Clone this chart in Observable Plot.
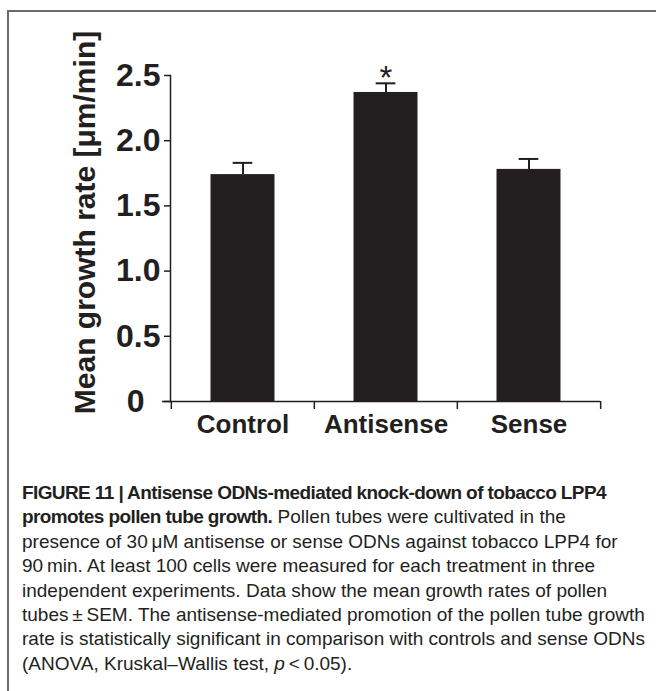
<!DOCTYPE html>
<html><head><meta charset="utf-8">
<script src="https://cdn.jsdelivr.net/npm/d3@7"></script>
<script src="https://cdn.jsdelivr.net/npm/@observablehq/plot@0.6"></script>
<style>
html,body{margin:0;padding:0;background:#fff;}
#page{position:relative;width:656px;height:691px;overflow:hidden;}
#border{position:absolute;left:7px;top:10px;right:-10px;bottom:-10px;border-top:2px solid #6b6b6b;border-left:2px solid #6b6b6b;}
#chart{position:absolute;left:0;top:0;}
#caption{position:absolute;left:22px;top:481px;width:634px;font-family:"Liberation Sans Narrow","Arial Narrow","Liberation Sans",Arial,sans-serif;font-size:19px;line-height:24.4px;color:#231f20;}
#caption div{white-space:nowrap;}
#caption b{letter-spacing:-0.6px;}
</style></head>
<body><div id="page"><div id="border"></div><div id="chart"></div><div id="caption"></div></div>
<script>
// ---- data ----
const categories = ["Control", "Antisense", "Sense"];
const means = [1.74, 2.37, 1.78];
const sems = [0.09, 0.07, 0.08];
const significance = ["", "*", ""];
const yTicks = [0, 0.5, 1.0, 1.5, 2.0, 2.5];
const yLabel = "Mean growth rate [μm/min]";
const captionLines = [
  "<b>FIGURE 11 | Antisense ODNs-mediated knock-down of tobacco LPP4</b>",
  "<b>promotes pollen tube growth.</b> Pollen tubes were cultivated in the",
  "presence of 30\u2009μM antisense or sense ODNs against tobacco LPP4 for",
  "90\u2009min. At least 100 cells were measured for each treatment in three",
  "independent experiments. Data show the mean growth rates of pollen",
  "tubes\u2009±\u2009SEM. The antisense-mediated promotion of the pollen tube growth",
  "rate is statistically significant in comparison with controls and sense ODNs",
  "(ANOVA, Kruskal–Wallis test, <i>p</i>\u2009&lt;\u20090.05)."
];

// ---- chart ----
const W = 656, H = 470, ml = 170, mr = 56, mt = 75, mb = 69;
const bw = (W - ml - mr) / categories.length;
const data = categories.map((c, i) => ({category: c, mean: means[i], sem: sems[i], top: means[i] + sems[i], mark: significance[i]}));
const ink = "#231f20";
const font = "'Liberation Sans', Arial, Helvetica, sans-serif";

const chart = Plot.plot({
  width: W, height: H,
  marginLeft: ml, marginRight: mr, marginTop: mt, marginBottom: mb,
  style: {fontFamily: font, color: ink, background: "transparent", overflow: "visible", fontWeight: "bold"},
  x: {domain: categories, padding: 0, axis: null},
  y: {domain: [0, 2.5], axis: null},
  marks: [
    Plot.barY(data, {x: "category", y: "mean", fill: ink, insetLeft: 39.5, insetRight: 39.5}),
    Plot.ruleX(data, {x: "category", y1: "mean", y2: "top", stroke: ink, strokeWidth: 2}),
    Plot.tickY(data, {x: "category", y: "top", stroke: ink, strokeWidth: 2, insetLeft: (bw - 20) / 2, insetRight: (bw - 20) / 2}),
    Plot.text(data, {x: "category", y: "top", text: "mark", lineAnchor: "bottom", dy: 6, fontSize: 33, fontWeight: "normal", fill: ink}),
    Plot.frame({anchor: "left", stroke: ink, strokeWidth: 1.5}),
    Plot.ruleY([0], {stroke: ink, strokeWidth: 1.5, insetLeft: -8}),
    Plot.ruleX(categories, {x: d => d, y1: 0, y2: 0, insetBottom: -8, dx: -bw / 2, stroke: ink, strokeWidth: 1.5}),
    Plot.ruleX(categories.slice(-1), {x: d => d, y1: 0, y2: 0, insetBottom: -8, dx: bw / 2, stroke: ink, strokeWidth: 1.5}),
    Plot.axisY({ticks: yTicks, tickSize: 6, tickPadding: 4, tickFormat: d => d === 0 ? "0\u2002" : d.toFixed(1), fontSize: 32, fontWeight: "bold", strokeWidth: 1.5, label: null}),
    Plot.axisX({ticks: categories, tickSize: 0, tickPadding: 13, fontSize: 26, fontWeight: "bold", label: null}),
    Plot.text([yLabel], {frameAnchor: "left", rotate: -90, textAnchor: "middle", dx: -76, dy: -16, lineAnchor: "bottom", fontSize: 30, fontWeight: "bold", fill: ink})
  ]
});
document.getElementById("chart").appendChild(chart);

const cap = document.getElementById("caption");
for (const line of captionLines) {
  const d = document.createElement("div");
  d.innerHTML = line;
  cap.appendChild(d);
}
</script>
</body></html>
